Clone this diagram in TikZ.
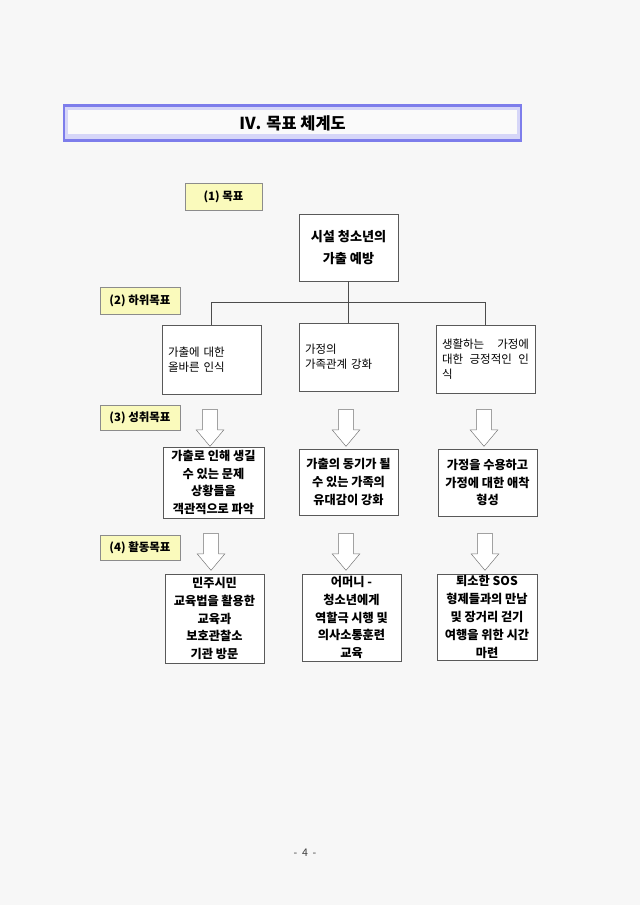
\documentclass[tikz,border=0pt]{standalone}
\usepackage{xcolor}
\usepackage{fontspec}
\setmainfont{Noto Sans CJK KR}
\usepackage{tikz}
\usetikzlibrary{shapes, arrows.meta, positioning, calc}

\definecolor{pagebg}{RGB}{247,247,247}
\definecolor{titleblue}{RGB}{125,125,235}
\definecolor{titlelav}{RGB}{214,214,248}
\definecolor{labyellow}{RGB}{250,250,188}

\begin{document}
\begin{tikzpicture}[
    x=0.03cm, y=-0.03cm,
    box/.style={draw=black!65, fill=white, minimum width=2.97cm, inner sep=0pt},
    sub/.style={box, text width=2.61cm, inner xsep=0.18cm, align=left,
                font=\fontsize{9.8}{12.6}\selectfont},
    aim/.style={box, align=center, font=\bfseries\fontsize{10.4}{15.2}\selectfont},
    lab/.style={draw=black!45, fill=labyellow, minimum width=2.4cm, minimum height=0.8cm,
                inner sep=0pt, font=\bfseries\fontsize{9.8}{12}\selectfont},
    downarr/.style={single arrow, draw=black!55, fill=white, shape border rotate=270,
                    minimum height=1.1cm, inner sep=0.22cm,
                    single arrow head extend=0.19cm, single arrow tip angle=80},
    link/.style={draw=black!70, thin}
]
% Page
\fill[pagebg] (0,0) rectangle (640,905);
\useasboundingbox (0,0) rectangle (640,905);

% Title
\node[draw=titleblue, line width=2pt, fill=titlelav, minimum width=13.7cm, minimum height=1.04cm,
      path picture={\fill[white!96!gray]
          ($(path picture bounding box.north west)+(0.12cm,-0.14cm)$) rectangle
          ($(path picture bounding box.south east)+(-0.12cm,0.2cm)$);},
      font=\bfseries\fontsize{14}{16}\selectfont] (title) at (292.5,123) {Ⅳ. 목표 체계도};

% Level labels
\node[lab, minimum width=2.31cm] (lab1) at (223.5,196.5) {(1) 목표};
\node[lab] (lab2) at (140,301) {(2) 하위목표};
\node[lab, minimum height=0.75cm] (lab3) at (140,417.5) {(3) 성취목표};
\node[lab, minimum height=0.75cm] (lab4) at (140,547.5) {(4) 활동목표};

% Goal
\node[aim, minimum height=2.01cm, font=\bfseries\fontsize{11.2}{19}\selectfont] (goal) at (348.5,247.5)
    {시설 청소년의\\가출 예방};

% Sub goals
\node[sub, minimum height=2.07cm] (sub1) at (211.5,359.5) {가출에 대한\\올바른 인식};
\node[sub, minimum height=2.04cm] (sub2) at (348.5,357) {가정의\\가족관계 강화};
\node[sub, minimum height=2.04cm] (sub3) at (485.5,359)
    {생활하는\hfill 가정에\\대한\hfill 긍정적인\hfill 인\\식};

% Tree
\coordinate (fork) at (348.5,302);
\draw[link] (goal.south) -- (sub2.north);
\draw[link] (fork) -| (sub1.north);
\draw[link] (fork) -| (sub3.north);

% Arrows to achievement goals
\node[downarr] (a1) at (210,423.5) {};
\node[downarr] (a2) at (346,423.5) {};
\node[downarr] (a3) at (484,423.5) {};

% Achievement goals
\node[aim, minimum width=3.03cm, minimum height=2.13cm] (ach1) at (213.5,482.5)
    {가출로 인해 생길\\수 있는 문제\\상황들을\\객관적으로 파악};
\node[aim, minimum height=1.98cm] (ach2) at (348.5,482)
    {가출의 동기가 될\\수 있는 가족의\\유대감이 강화};
\node[aim, minimum height=2.01cm] (ach3) at (487.5,482.5)
    {가정을 수용하고\\가정에 대한 애착\\형성};

% Arrows to activity goals
\node[downarr] (a4) at (211,547.5) {};
\node[downarr] (a5) at (346,547.5) {};
\node[downarr] (a6) at (485,547.5) {};

% Activity goals
\node[aim, minimum height=2.67cm] (act1) at (214.5,618.5)
    {민주시민\\교육법을 활용한\\교육과\\보호관찰소\\기관 방문};
\node[aim, minimum height=2.61cm] (act2) at (351.5,617.5)
    {어머니 -\\청소년에게\\역할극 시행 및\\의사소통훈련\\교육};
\node[aim, minimum width=3cm, minimum height=2.58cm] (act3) at (487,617)
    {퇴소한 SOS\\형제들과의 만남\\및 장거리 걷기\\여행을 위한 시간\\마련};

% Page number
\node[font=\fontsize{9}{10}\selectfont, text=black!75] (pg) at (305,853) {-\ \ 4\ \ -};
\end{tikzpicture}
\end{document}
